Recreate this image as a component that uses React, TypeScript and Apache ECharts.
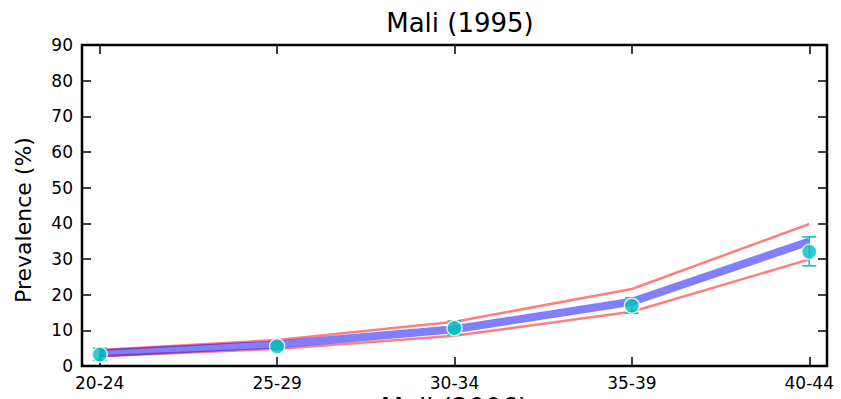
import React, { useEffect, useRef } from "react";
import * as echarts from "echarts";

const categories = ["20-24", "25-29", "30-34", "35-39", "40-44"];
const upperBand = [4.5, 7.3, 12.4, 21.6, 39.8];
const lowerBand = [2.7, 4.8, 8.5, 15.2, 29.9];
const modelLine = [3.6, 6.0, 10.3, 18.0, 34.9];
const observed = [3.2, 5.5, 10.6, 16.9, 32.0];
const errLow = [1.6, 4.6, 8.9, 14.8, 28.1];
const errHigh = [5.0, 6.4, 12.6, 19.1, 36.2];
const yTicks = [0, 10, 20, 30, 40, 50, 60, 70, 80, 90];

const FONT = "DejaVu Sans";

export default function App() {
  const ref = useRef<HTMLDivElement>(null);
  useEffect(() => {
    if (!ref.current) return;
    const chart = echarts.init(ref.current, null, { renderer: "svg" });
    const idx = categories.map((_, i) => i);
    const pair = (arr: number[]) => arr.map((v, i) => [i, v]);
    const tickStyle = { show: true, inside: true, length: 9, lineStyle: { color: "#000", width: 1.5 } };
    const hiddenLine = { show: false, onZero: false };
    chart.setOption({
      animation: false,
      backgroundColor: "#fff",
      title: {
        text: "Mali (1995)",
        left: 455,
        textAlign: "center",
        top: 5,
        textStyle: { fontFamily: FONT, fontSize: 26, fontWeight: "normal", color: "#000" },
      },
      graphic: [
        {
          type: "text",
          x: 23,
          y: 220,
          rotation: Math.PI / 2,
          style: {
            text: "Prevalence (%)",
            font: `22px "${FONT}"`,
            fill: "#000",
            textAlign: "center",
            textVerticalAlign: "middle",
          },
        },
      ],
      grid: {
        left: 82,
        right: 14,
        top: 45,
        bottom: 33,
        outerBoundsMode: "none",
        containLabel: false,
        show: true,
        borderColor: "#000",
        borderWidth: 2.5,
        backgroundColor: "transparent",
      },
      xAxis: [
        {
          type: "value",
          min: -0.1,
          max: 4.1,
          position: "bottom",
          name: "Mali (2006)",
          nameLocation: "middle",
          nameGap: 29,
          nameMoveOverlap: false,
          nameTextStyle: { fontFamily: FONT, fontSize: 26, color: "#000", verticalAlign: "top" },
          axisLine: hiddenLine,
          splitLine: { show: false },
          axisTick: { ...tickStyle, customValues: idx },
          axisLabel: {
            customValues: idx,
            formatter: (v: number) => categories[Math.round(v)] ?? "",
            fontFamily: FONT,
            fontSize: 17,
            color: "#000",
            margin: 8,
          },
        },
        {
          type: "value",
          min: -0.1,
          max: 4.1,
          position: "top",
          axisLine: hiddenLine,
          splitLine: { show: false },
          axisTick: { ...tickStyle, customValues: idx },
          axisLabel: { show: false },
        },
      ],
      yAxis: [
        {
          type: "value",
          min: 0,
          max: 90,
          interval: 10,
          position: "left",
          axisLine: hiddenLine,
          splitLine: { show: false },
          axisTick: tickStyle,
          axisLabel: {
            fontFamily: FONT,
            fontSize: 17,
            color: "#000",
            margin: 9,
            formatter: (v: number) => (yTicks.includes(v) ? String(v) : ""),
          },
        },
        {
          type: "value",
          min: 0,
          max: 90,
          interval: 10,
          position: "right",
          axisLine: hiddenLine,
          splitLine: { show: false },
          axisTick: tickStyle,
          axisLabel: { show: false },
        },
      ],
      series: [
        {
          type: "line",
          data: pair(upperBand),
          symbol: "none",
          lineStyle: { color: "rgba(255,0,0,0.5)", width: 2.5 },
          z: 2,
        },
        {
          type: "line",
          data: pair(lowerBand),
          symbol: "none",
          lineStyle: { color: "rgba(255,0,0,0.5)", width: 2.5 },
          z: 2,
        },
        {
          type: "line",
          data: pair(modelLine),
          symbol: "none",
          lineStyle: { color: "rgba(0,0,255,0.5)", width: 8 },
          z: 3,
        },
        {
          type: "custom",
          data: categories.map((_, i) => [i, errLow[i], errHigh[i]]),
          z: 4,
          renderItem: (params: any, api: any) => {
            const x = api.value(0);
            const lo = api.coord([x, api.value(1)]);
            const hi = api.coord([x, api.value(2)]);
            const cap = 7;
            const style = { stroke: "#00bfbf", lineWidth: 1.5, fill: "none" };
            return {
              type: "group",
              children: [
                { type: "line", shape: { x1: lo[0], y1: lo[1], x2: hi[0], y2: hi[1] }, style },
                { type: "line", shape: { x1: lo[0] - cap, y1: lo[1], x2: lo[0] + cap, y2: lo[1] }, style },
                { type: "line", shape: { x1: hi[0] - cap, y1: hi[1], x2: hi[0] + cap, y2: hi[1] }, style },
              ],
            };
          },
        },
        {
          type: "scatter",
          data: pair(observed),
          symbol: "circle",
          symbolSize: 15,
          itemStyle: { color: "#00bfbf", borderColor: "#fff", borderWidth: 1.5 },
          z: 5,
        },
      ],
    });
    return () => chart.dispose();
  }, []);
  return (
    <div
      ref={ref}
      style={{ position: "fixed", left: 0, top: 0, width: 841, height: 399, background: "#fff" }}
    />
  );
}
